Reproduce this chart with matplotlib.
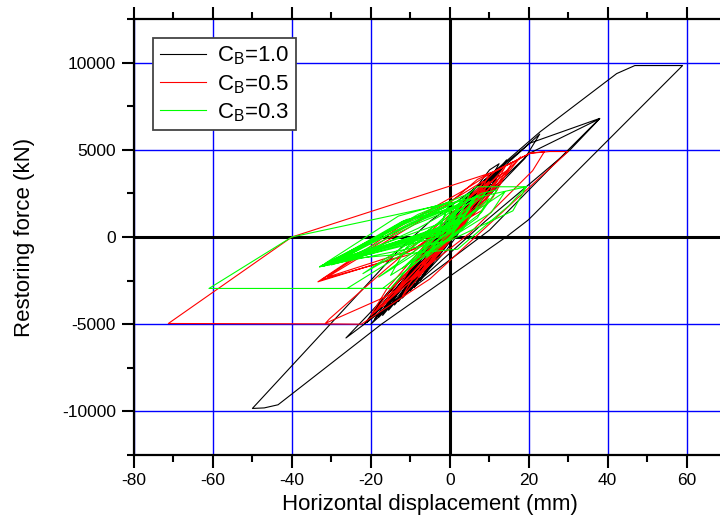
import matplotlib
matplotlib.use("Agg")
import matplotlib.pyplot as plt
from matplotlib.ticker import MultipleLocator

plt.rcParams['font.family'] = ['Liberation Sans', 'DejaVu Sans']
plt.rcParams['axes.unicode_minus'] = False

# Hysteresis paths (displacement in mm, restoring force in kN), turning points in time order
disp_cb10 = [0, 3, 5.5, 3.8, -3.5, -1.5, 8.5, 6, -7.5, -5, 11, 8.3, -10, -7, 12.7, 10,
             -13, -9.5, 14.4, 11.5, -15.5, -12, 10.1, 12.5, 9, -18, -14, 2.5, 22.8, 19,
             -21, -16.5, 5.9, 20.3, 38, 29.6, 10.1, -26.3, -20, -5, 20.3, 38, 30.5, 9,
             -20, -16, 5.9, 23, 42.3, 46.9, 59, 25, 19.9, 14.4, -2.5, -17.3, -43.5, -47,
             -50, -12.5, -5, 13, 10, -0.8, -12, -9, 10, 7.5, -20.5, -17, 11.5, 9, -19,
             -15.5, 12.2, 9.5, -21.5, -18, 9.5, 7, -17, -14, 13.5, 10.5, -14, -11, 8, 5.5,
             -9, -6.5, 6, 4, -5, -3, 3, 0]
force_cb10 = [0, 1200, 1800, 800, -1300, -500, 2800, 1700, -2500, -1400, 3400, 2300, -3100,
              -1800, 3800, 2700, -3700, -2300, 4420, 3200, -4200, -2700, 3850, 4200, 2800,
              -4600, -3100, 1740, 5900, 4500, -4900, -3400, 2700, 5380, 6800, 4900, 400,
              -5790, -4300, -600, 4810, 6780, 5000, 900, -5000, -3900, 2700, 6050, 9370,
              9830, 9830, 2130, 977, 20, -2650, -5000, -9620, -9800, -9830, -650, 900, 3900,
              2700, -750, -3500, -2300, 3200, 2100, -4800, -3800, 3600, 2500, -4700, -3500,
              3900, 2700, -4950, -3900, 3300, 2200, -4500, -3300, 4100, 2900, -3900, -2800,
              2900, 1800, -2900, -1700, 2200, 1200, -1600, -700, 1000, 0]

disp_cb05 = [0, 4, 6, 4, -5, -3, 9, 6.5, -9, -6, 12, 9, -14, -10, 5, 15, 11, 8, -12.7,
             -33.4, -12.7, 3, 10, 7, -10, -32.5, -14, 2, 8.5, 5.5, -9, -31, -15, 0, 7,
             16, 12, -6, -20, -16, 0, 11.4, 20.3, 25.3, 30, 8.4, -5, -22.4, -32, -71.3,
             -40, 11.4, 20.3, 24, 21, 5, -15, -31.5, -30.5, -18, 10, 7, -17, -13.5, 14,
             11, -19, -15, 18, 13, -12, -9, 9, 6, -8, -5.5, 6, 4, -4, -2.5, 2, 0]
force_cb05 = [0, 1400, 1900, 900, -1500, -600, 2700, 1600, -2400, -1200, 3300, 2000, -3300,
              -1800, 2300, 3900, 2300, 1500, -1130, -2570, 590, 2600, 3600, 2200, -1000,
              -2450, 200, 2300, 3200, 1800, -700, -2300, -100, 1950, 3300, 4300, 3000,
              -1800, -4500, -3000, 1200, 3750, 4800, 4900, 4900, 400, -2400, -5000, -4980,
              -4960, 0, 3750, 4800, 4900, 3800, 200, -3300, -4950, -4700, -2200, 3200,
              2100, -4000, -2700, 4000, 2800, -4300, -3000, 4600, 3200, -3400, -2200, 3000,
              1900, -2300, -1300, 2000, 1100, -1200, -500, 600, 0]

disp_cb03 = [0, 3, 6, 3.5, -6, -3, 10, 7, -10, -6, 14, 10.5, -15, -11, -3, 6.8, 19.4,
             16, 0, -33, -10, 0, -2, -31.2, -8, 2, -1, -32.5, -12, 1, -2, -30, -9, 3, 0,
             -33, -11, 4, 1, -15, -26, -10, 8, 12, 8, -17, -61, -40, 1.7, 19.4, 15, 2,
             -28, -8, 5, 2, -31.5, -13, 0, -3, -29, -10, 6, 3, -27, -9, 4, 1, -32, -12, 2,
             -1, -25, -8, 7, 4, -22, -10, 6, 3, -30.5, -11, 1, -2, -18, -7, 9, 6, -12,
             -5, 5, 2, -6, -3, 2, 0]
force_cb03 = [0, 900, 1500, 500, -1200, -200, 2200, 1100, -1700, -400, 2600, 1400, -2200,
              -600, 800, 2880, 2880, 1500, -200, -1700, 1000, 2000, 800, -1540, 900, 1800,
              500, -1650, 700, 1900, 200, -1600, 1100, 2100, 400, -1720, 600, 2300, 1200,
              -2950, -2950, -700, 2500, 2700, 1400, -2950, -2950, 0, 2020, 2880, 1800,
              -700, -1300, 1300, 2500, 800, -1500, 1200, 2000, 300, -1450, 800, 2200, 900,
              -1350, 700, 1900, 600, -1680, 900, 1700, 100, -1250, 500, 2400, 1300, -2100,
              -300, 2100, 1000, -1600, 1000, 1600, 0, -2300, -500, 2500, 1400, -1800, -300,
              1600, 600, -1000, -200, 600, 0]

series_labels = ['$\\mathregular{C_B}$=1.0', '$\\mathregular{C_B}$=0.5', '$\\mathregular{C_B}$=0.3']
series_colors = ['black', '#ff0000', '#00ff00']

fig = plt.figure(figsize=(7.2, 5.24), dpi=100)
ax = fig.add_axes([134 / 720, 69 / 524, 592 / 720, 436 / 524])

ax.set_xlim(-80, 70)
ax.set_ylim(-12500, 12500)

ax.xaxis.set_major_locator(MultipleLocator(20))
ax.xaxis.set_minor_locator(MultipleLocator(10))
ax.yaxis.set_major_locator(MultipleLocator(5000))
ax.yaxis.set_minor_locator(MultipleLocator(2500))

ax.grid(True, which='major', color='#0000ff', linewidth=1.0)
ax.set_axisbelow(True)
ax.axhline(0, color='black', linewidth=2.2, zorder=1.5)
ax.axvline(0, color='black', linewidth=2.2, zorder=1.5)

for xs, ys, c, lab in zip([disp_cb10, disp_cb05, disp_cb03],
                          [force_cb10, force_cb05, force_cb03],
                          series_colors, series_labels):
    ax.plot(xs, ys, color=c, linewidth=0.8, label=lab, zorder=3)

for side in ['left', 'bottom', 'top', 'right']:
    ax.spines[side].set_linewidth(1.6)
ax.tick_params(which='both', direction='out', top=True, right=False,
               labeltop=False, width=1.5, labelsize=12.5, pad=4)
ax.tick_params(which='major', length=9)
ax.tick_params(which='minor', length=5)

ax.set_xlabel('Horizontal displacement (mm)', fontsize=16)
ax.set_ylabel('Restoring force (kN)', fontsize=16)
ax.xaxis.set_label_coords(0.5, -0.09)
ax.yaxis.set_label_coords(-0.167, 0.5)

leg = ax.legend(loc='upper left', bbox_to_anchor=(0.032, 0.956), borderaxespad=0,
                fancybox=False, framealpha=1, edgecolor='#444444', fontsize=16,
                handlelength=2.1, labelspacing=0.25, borderpad=0.3, handletextpad=0.5)
leg.get_frame().set_linewidth(1.3)

fig.savefig('out.png', dpi=100)
